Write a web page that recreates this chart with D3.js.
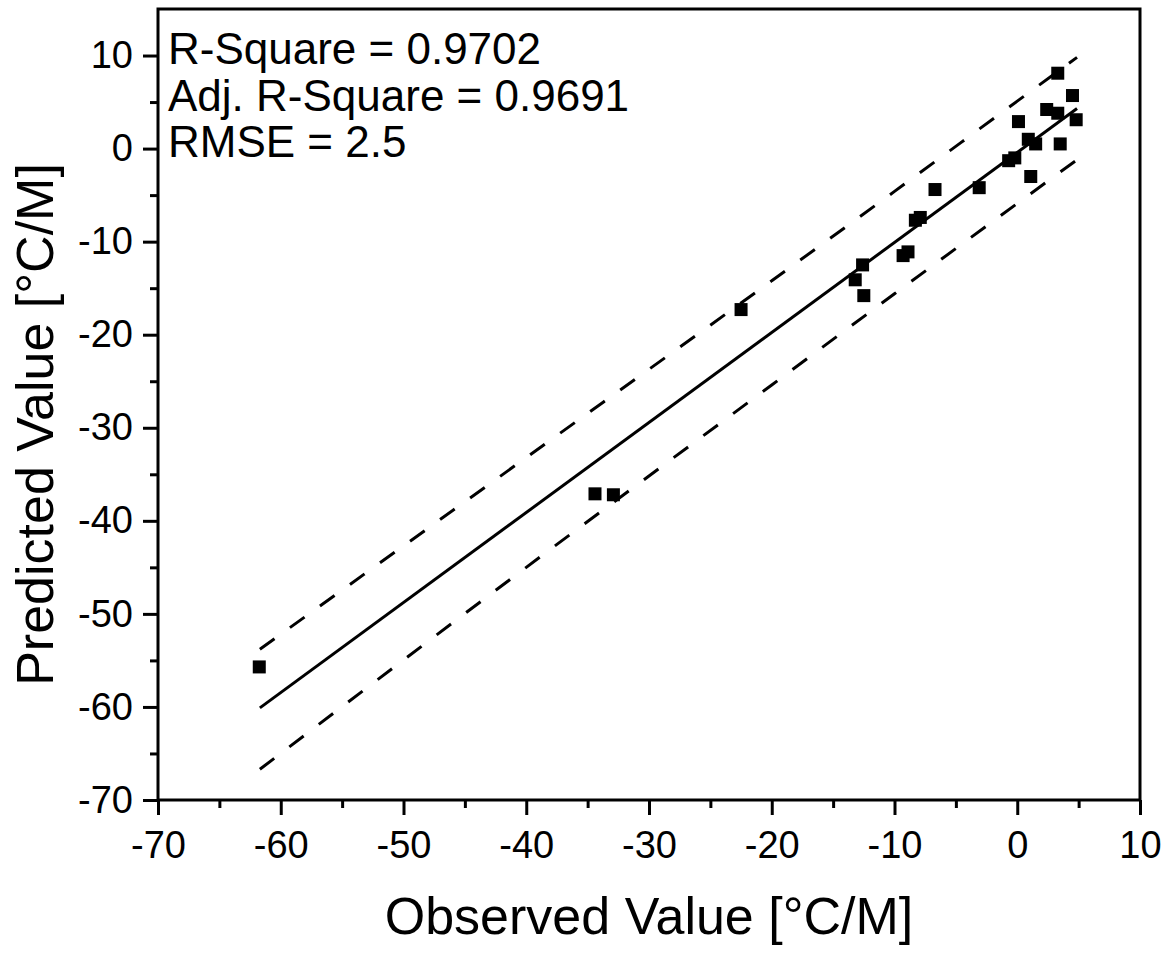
<!DOCTYPE html>
<html>
<head>
<meta charset="utf-8">
<script src="https://cdn.jsdelivr.net/npm/d3@7"></script>
<style>
  body { margin: 0; background: #fff; }
  text { font-family: Arial, "Liberation Sans", sans-serif; fill: #000; }
</style>
</head>
<body>
<div id="chart"></div>
<script>
// observed vs predicted values
var observed  = [-61.75, -34.4, -32.9, -22.5, -13.2, -12.6, -12.5, -9.3, -8.9, -8.3, -7.9, -6.7, -3.1,
                 -0.7, -0.2, 0.1, 0.9, 1.1, 1.5, 2.4, 3.3, 3.3, 3.5, 4.5, 4.8];
var predicted = [-55.7, -37.1, -37.2, -17.3, -14.1, -12.5, -15.8, -11.5, -11.1, -7.7, -7.4, -4.4, -4.2,
                 -1.3, -1.0, 2.9, 1.0, -3.0, 0.5, 4.2, 8.1, 3.8, 0.5, 5.7, 3.1];

// fitted line and prediction band
var fitX     = [-61.7, 4.87];
var fitY     = [-60.1, 4.3];
var bandX    = [-61.7, -40, -20, -10, 0, 4.87];
var bandUp   = [-53.8, -33.2, -14.2, -4.6, 5.1, 9.8];
var bandLow  = [-66.7, -45.0, -25.4, -15.6, -5.9, -1.2];

var xTicks = [-70, -60, -50, -40, -30, -20, -10, 0, 10];
var yTicks = [-70, -60, -50, -40, -30, -20, -10, 0, 10];
var stats  = ["R-Square = 0.9702", "Adj. R-Square = 0.9691", "RMSE = 2.5"];

var W = 1165, H = 953;
var margin = {top: 9, right: 25, bottom: 153, left: 158};
var width = W - margin.left - margin.right,
    height = H - margin.top - margin.bottom;

var svg = d3.select("#chart").append("svg")
    .attr("width", W)
    .attr("height", H)
  .append("g")
    .attr("transform", "translate(" + margin.left + "," + margin.top + ")");

var x = d3.scaleLinear().domain([-70, 10]).range([0, width]);
var y = d3.scaleLinear().domain([-70, 15]).range([height, 0]);

// plain hyphen for negatives, like the original
var fmt = function(d) { return String(d); };

// minor ticks first, majors on top
var xMinor = d3.axisBottom(x).tickValues(d3.range(-65, 10, 10)).tickSize(8).tickFormat("");
var yMinor = d3.axisLeft(y).tickValues(d3.range(-65, 15, 10)).tickSize(8).tickFormat("");
var xAxis = d3.axisBottom(x).tickValues(xTicks).tickSize(15).tickPadding(16).tickFormat(fmt);
var yAxis = d3.axisLeft(y).tickValues(yTicks).tickSize(15).tickPadding(10).tickFormat(fmt);

svg.append("g").attr("class", "axis").attr("transform", "translate(0," + height + ")").call(xMinor);
svg.append("g").attr("class", "axis").call(yMinor);
svg.append("g").attr("class", "axis").attr("transform", "translate(0," + height + ")").call(xAxis);
svg.append("g").attr("class", "axis").call(yAxis);

svg.selectAll(".axis path").remove();
svg.selectAll(".axis line").attr("stroke", "#000").attr("stroke-width", 3);
svg.selectAll(".axis text").style("font-size", "38px").attr("fill", "#000");

// frame
svg.append("rect")
    .attr("x", 0).attr("y", 0)
    .attr("width", width).attr("height", height)
    .attr("fill", "none")
    .attr("stroke", "#000")
    .attr("stroke-width", 3);

// fit line
var line = d3.line().x(function(d) { return x(d[0]); }).y(function(d) { return y(d[1]); });
svg.append("path")
    .datum(d3.zip(fitX, fitY))
    .attr("d", line)
    .attr("fill", "none")
    .attr("stroke", "#000")
    .attr("stroke-width", 3);

var band = d3.line().curve(d3.curveMonotoneX)
    .x(function(d) { return x(d[0]); }).y(function(d) { return y(d[1]); });
[bandUp, bandLow].forEach(function(b) {
    svg.append("path")
        .datum(d3.zip(bandX, b))
        .attr("d", band)
        .attr("fill", "none")
        .attr("stroke", "#000")
        .attr("stroke-width", 3)
        .attr("stroke-dasharray", "18,19");
});

// points
var s = 13;
svg.selectAll(".pt")
    .data(d3.zip(observed, predicted))
  .enter().append("rect")
    .attr("class", "pt")
    .attr("x", function(d) { return x(d[0]) - s / 2; })
    .attr("y", function(d) { return y(d[1]) - s / 2; })
    .attr("width", s)
    .attr("height", s)
    .attr("fill", "#000");

// stats text
svg.selectAll(".stat")
    .data(stats)
  .enter().append("text")
    .attr("class", "stat")
    .attr("x", 10)
    .attr("y", function(d, i) { return 55 + i * 46.5; })
    .style("font-size", "44px")
    .text(function(d) { return d; });

// axis titles
svg.append("text")
    .attr("x", width / 2)
    .attr("y", height + 134)
    .attr("text-anchor", "middle")
    .style("font-size", "52px")
    .text("Observed Value [\u00B0C/M]");

svg.append("text")
    .attr("transform", "translate(" + (53 - margin.left) + "," + (height / 2 + 20) + ") rotate(-90)")
    .attr("text-anchor", "middle")
    .style("font-size", "52px")
    .text("Predicted Value [\u00B0C/M]");
</script>
</body>
</html>
